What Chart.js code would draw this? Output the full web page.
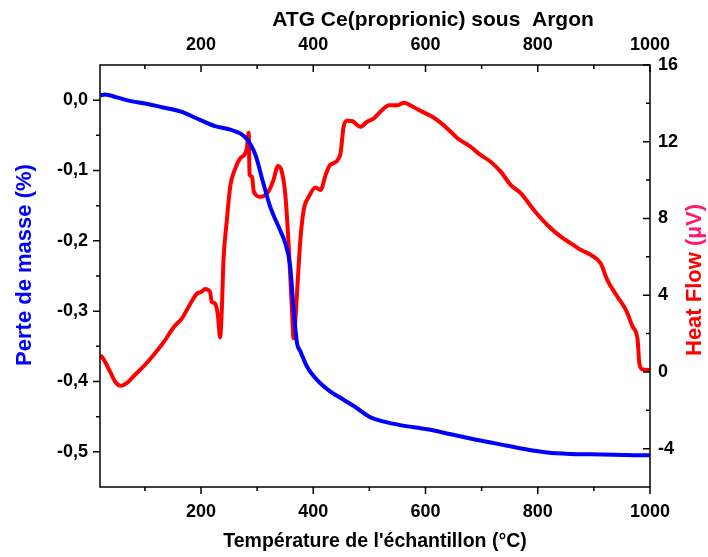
<!DOCTYPE html>
<html lang="fr">
<head>
<meta charset="UTF-8">
<title>ATG Ce(proprionic) sous Argon</title>
<script src="https://cdn.jsdelivr.net/npm/chart.js"></script>
<style>
  html, body { margin: 0; padding: 0; background: #fff; }
  #wrap { width: 708px; height: 557px; }
</style>
</head>
<body>
<div id="wrap"><canvas id="atg" width="708" height="557"></canvas></div>
<script>
// Perte de masse (axe gauche)
const massTemp = [21, 29, 50, 73, 103, 130, 163, 198, 225, 252, 279, 297, 311, 323, 341, 350, 359, 365, 371, 377, 389, 407, 430, 454, 478, 502, 526, 555, 603, 645, 686, 731, 776, 817, 859, 895, 936, 996, 1000];
const massLoss = [0.007, 0.008, 0.004, -0.001, -0.005, -0.010, -0.016, -0.028, -0.037, -0.042, -0.053, -0.078, -0.118, -0.151, -0.185, -0.203, -0.237, -0.298, -0.345, -0.357, -0.379, -0.398, -0.414, -0.426, -0.438, -0.451, -0.457, -0.462, -0.468, -0.475, -0.482, -0.489, -0.496, -0.501, -0.503, -0.5035, -0.504, -0.505, -0.505];

// Flux de chaleur (axe droit)
const heatTemp = [21, 29, 38, 47, 57, 67, 82, 100, 118, 136, 151, 166, 178, 192, 201, 207, 216, 219, 225, 230, 234, 237, 240, 246, 252, 261, 270, 279, 282, 285, 286.5, 291, 294, 306, 320, 329, 337, 344, 350, 356, 362, 365, 371, 377, 383, 392, 404, 413, 422, 430, 448, 454, 460, 469, 484, 496, 508, 520, 535, 550, 561, 579, 594, 612, 630, 645, 657, 680, 698, 716, 734, 752, 770, 793, 817, 841, 859, 877, 895, 912, 924, 942, 957, 969, 978, 981, 987, 1000];
const heatFlow = [0.88, 0.53, 0.01, -0.51, -0.72, -0.60, -0.16, 0.36, 0.97, 1.66, 2.32, 2.79, 3.40, 4.06, 4.18, 4.32, 4.18, 3.66, 3.57, 2.97, 1.8, 3.2, 5.8, 7.9, 9.66, 10.6, 11.14, 11.4, 11.74, 12.47, 10.27, 10.18, 9.4, 9.13, 9.4, 10.0, 10.73, 10.44, 9.31, 6.7, 3.23, 1.75, 4.1, 6.88, 8.44, 9.13, 9.62, 9.48, 10.27, 10.79, 11.31, 12.78, 13.1, 13.08, 12.78, 13.04, 13.22, 13.57, 13.9, 13.9, 14.03, 13.8, 13.57, 13.3, 12.92, 12.52, 12.18, 11.74, 11.31, 10.96, 10.44, 9.74, 9.31, 8.44, 7.66, 7.05, 6.70, 6.35, 6.09, 5.66, 4.79, 3.92, 3.23, 2.36, 1.66, 0.45, 0.13, 0.10];

// Graduations
const tempTicks = [200, 400, 600, 800, 1000];
const tempMinor = [100, 300, 500, 700, 900];
const massTicks = [0, -0.1, -0.2, -0.3, -0.4, -0.5];
const massMinor = [-0.05, -0.15, -0.25, -0.35, -0.45];
const heatTicks = [-4, 0, 4, 8, 12, 16];
const heatMinor = [-2, 2, 6, 10, 14];

const FONT = "'Liberation Sans', Arial, sans-serif";
const tickFont = { family: FONT, size: 18, weight: 'bold' };
const noGrid = { display: false, drawTicks: false };

function setTicks(values) {
  return scale => { scale.ticks = values.map(v => ({ value: v })); };
}
function fixSize(prop, size) {
  return scale => { scale[prop] = size; };
}

// cadre, graduations (majeures/mineures) et titres des axes
const frame = {
  id: 'frame',
  afterDraw(chart) {
    const { ctx, chartArea: a, scales } = chart;
    ctx.save();
    ctx.strokeStyle = '#000';
    ctx.lineWidth = 1.5;
    ctx.strokeRect(a.left, a.top, a.right - a.left, a.bottom - a.top);

    const major = 7, minor = 4;
    ctx.beginPath();
    // bas : vers l'extérieur
    tempTicks.forEach(v => { const x = scales.x.getPixelForValue(v); ctx.moveTo(x, a.bottom); ctx.lineTo(x, a.bottom + major); });
    tempMinor.forEach(v => { const x = scales.x.getPixelForValue(v); ctx.moveTo(x, a.bottom); ctx.lineTo(x, a.bottom + minor); });
    // haut : vers l'intérieur
    tempTicks.forEach(v => { const x = scales.x2.getPixelForValue(v); ctx.moveTo(x, a.top); ctx.lineTo(x, a.top + major); });
    tempMinor.forEach(v => { const x = scales.x2.getPixelForValue(v); ctx.moveTo(x, a.top); ctx.lineTo(x, a.top + minor); });
    // gauche : vers l'extérieur
    massTicks.forEach(v => { const y = scales.y.getPixelForValue(v); ctx.moveTo(a.left, y); ctx.lineTo(a.left - major, y); });
    massMinor.forEach(v => { const y = scales.y.getPixelForValue(v); ctx.moveTo(a.left, y); ctx.lineTo(a.left - minor, y); });
    // droite : vers l'intérieur
    heatTicks.forEach(v => { const y = scales.y1.getPixelForValue(v); ctx.moveTo(a.right, y); ctx.lineTo(a.right - major, y); });
    heatMinor.forEach(v => { const y = scales.y1.getPixelForValue(v); ctx.moveTo(a.right, y); ctx.lineTo(a.right - minor, y); });
    ctx.stroke();

    ctx.textAlign = 'center';
    ctx.textBaseline = 'middle';
    ctx.fillStyle = '#000';
    ctx.font = 'bold 21px ' + FONT;
    ctx.fillText('ATG Ce(proprionic) sous  Argon', 433, 20);
    ctx.font = 'bold 19.5px ' + FONT;
    ctx.fillText("Température de l'échantillon (°C)", 375, 542);

    ctx.save();
    ctx.translate(25, 265);
    ctx.rotate(-Math.PI / 2);
    ctx.fillStyle = '#0000ff';
    ctx.font = 'bold 22px ' + FONT;
    ctx.fillText('Perte de masse (%)', 0, 0);
    ctx.restore();

    ctx.save();
    ctx.translate(695, 280);
    ctx.rotate(-Math.PI / 2);
    ctx.font = 'bold 22px ' + FONT;
    const p1 = 'Heat Flow ', p2 = '(µV)';
    const w1 = ctx.measureText(p1).width, w2 = ctx.measureText(p2).width;
    ctx.textAlign = 'left';
    ctx.fillStyle = '#ff0000';
    ctx.fillText(p1, -(w1 + w2) / 2, 0);
    ctx.fillStyle = '#ff1a6e';
    ctx.fillText(p2, -(w1 + w2) / 2 + w1, 0);
    ctx.restore();
    ctx.restore();
  }
};

new Chart(document.getElementById('atg'), {
  type: 'line',
  data: {
    datasets: [
      {
        label: 'Perte de masse',
        data: massTemp.map((t, i) => ({ x: t, y: massLoss[i] })),
        borderColor: '#0000ff',
        borderWidth: 4,
        pointRadius: 0,
        cubicInterpolationMode: 'monotone',
        xAxisID: 'x',
        yAxisID: 'y'
      },
      {
        label: 'Heat Flow',
        data: heatTemp.map((t, i) => ({ x: t, y: heatFlow[i] })),
        borderColor: '#ff0000',
        borderWidth: 4,
        pointRadius: 0,
        cubicInterpolationMode: 'monotone',
        xAxisID: 'x',
        yAxisID: 'y1'
      }
    ]
  },
  options: {
    responsive: false,
    animation: false,
    layout: { padding: 0 },
    plugins: { legend: { display: false }, tooltip: { enabled: false } },
    scales: {
      x: {
        type: 'linear', position: 'bottom', min: 20, max: 1000,
        grid: noGrid, border: { display: false },
        afterBuildTicks: setTicks(tempTicks),
        afterFit: fixSize('height', 70),
        ticks: { color: '#000', font: tickFont, padding: 14, maxRotation: 0, callback: v => String(v) }
      },
      x2: {
        type: 'linear', position: 'top', min: 20, max: 1000,
        grid: noGrid, border: { display: false },
        afterBuildTicks: setTicks(tempTicks),
        afterFit: fixSize('height', 65),
        ticks: { color: '#000', font: tickFont, padding: 9, maxRotation: 0, callback: v => String(v) }
      },
      y: {
        type: 'linear', position: 'left', min: -0.55, max: 0.05,
        grid: noGrid, border: { display: false },
        afterBuildTicks: setTicks(massTicks),
        afterFit: fixSize('width', 100),
        ticks: { color: '#000', font: tickFont, padding: 12, callback: v => v.toFixed(1).replace('.', ',') }
      },
      y1: {
        type: 'linear', position: 'right', min: -6, max: 16,
        grid: noGrid, border: { display: false },
        afterBuildTicks: setTicks(heatTicks),
        afterFit: fixSize('width', 58),
        ticks: { color: '#000', font: tickFont, padding: 8, callback: v => String(v) }
      }
    }
  },
  plugins: [frame]
});
</script>
</body>
</html>
